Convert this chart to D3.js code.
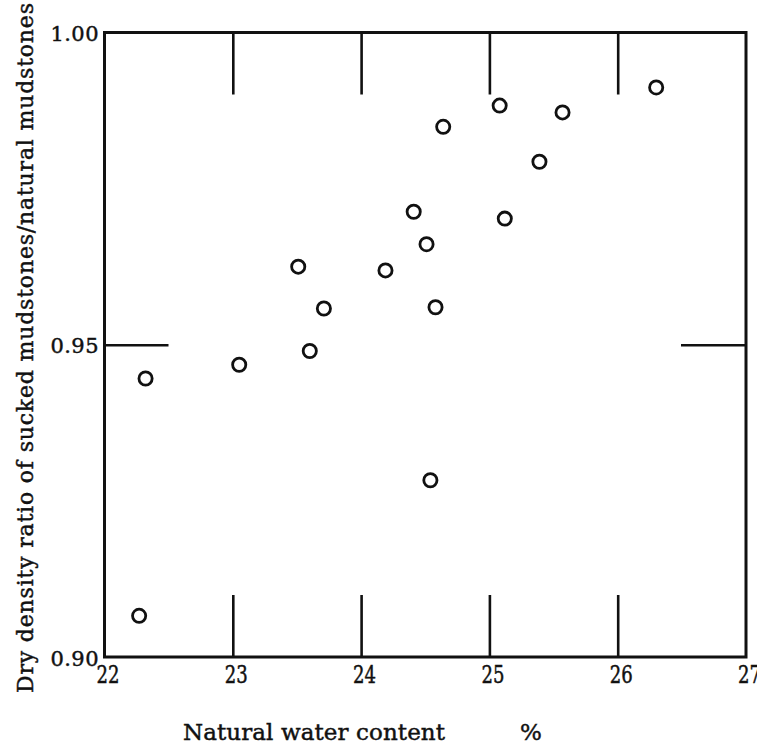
<!DOCTYPE html>
<html>
<head>
<meta charset="utf-8">
<script src="https://cdn.jsdelivr.net/npm/d3@7"></script>
<style>
  html, body { margin: 0; padding: 0; background: #fff; }
  svg { display: block; }
  text { font-family: "DejaVu Serif", "Liberation Serif", serif; fill: #111; stroke: #111; stroke-width: 0.45px; }
</style>
</head>
<body>
<div id="chart"></div>
<script>
// ------- data -------
const waterContent = [26.30, 25.08, 25.57, 24.64, 25.39, 24.41, 25.12, 24.51, 24.19,
                      23.51, 24.58, 23.71, 23.60, 23.05, 22.32, 24.54, 22.27];
const densityRatio = [0.9912, 0.9883, 0.9872, 0.9849, 0.9793, 0.9713, 0.9702, 0.9661, 0.9619,
                      0.9625, 0.9560, 0.9558, 0.9490, 0.9468, 0.9446, 0.9283, 0.9066];
const xTickLabels = [22, 23, 24, 25, 26, 27];
const xInnerTicks = [23, 24, 25, 26];
const yTickLabels = [0.90, 0.95, 1.00];
const yInnerTicks = [0.95];

const X_TITLE = "Natural water content";
const X_UNIT = "%";
const Y_TITLE = "Dry density ratio of sucked mudstones/natural mudstones";

// ------- layout -------
const width = 757, height = 745;
const margin = { top: 32.5, right: 11, bottom: 88, left: 104.5 };
const w = width - margin.left - margin.right;
const h = height - margin.top - margin.bottom;

const svg = d3.select("#chart").append("svg")
  .attr("width", width).attr("height", height);

const g = svg.append("g").attr("transform", `translate(${margin.left},${margin.top})`);

const x = d3.scaleLinear().domain([22, 27]).range([0, w]);
const y = d3.scaleLinear().domain([0.90, 1.00]).range([h, 0]);

const styleTicks = sel => sel.call(s => s.select(".domain").remove())
  .call(s => s.selectAll("line").attr("stroke", "#111").attr("stroke-width", 2.6));

// inward ticks, bottom and top
g.append("g").attr("transform", `translate(0,${h})`)
  .call(d3.axisBottom(x).tickValues(xInnerTicks).tickSizeInner(-62).tickSizeOuter(0).tickFormat(""))
  .call(styleTicks);
g.append("g")
  .call(d3.axisTop(x).tickValues(xInnerTicks).tickSizeInner(-62).tickSizeOuter(0).tickFormat(""))
  .call(styleTicks);

// inward ticks, left and right
g.append("g")
  .call(d3.axisLeft(y).tickValues(yInnerTicks).tickSizeInner(-64).tickSizeOuter(0).tickFormat(""))
  .call(styleTicks);
g.append("g").attr("transform", `translate(${w},0)`)
  .call(d3.axisRight(y).tickValues(yInnerTicks).tickSizeInner(-65).tickSizeOuter(0).tickFormat(""))
  .call(styleTicks);

// tick labels
g.append("g").attr("transform", `translate(0,${h})`)
  .call(d3.axisBottom(x).tickValues(xTickLabels).tickSize(0).tickPadding(0).tickFormat(d3.format("d")))
  .call(s => s.select(".domain").remove())
  .call(s => s.selectAll("text")
    .attr("dy", null).attr("y", 26).attr("dx", 3)
    .attr("textLength", 23).attr("lengthAdjust", "spacingAndGlyphs")
    .style("font-size", "24px")
    .style("font-family", '"DejaVu Serif Condensed", "DejaVu Serif", serif')
    .attr("fill", "#111"));

g.append("g")
  .call(d3.axisLeft(y).tickValues(yTickLabels).tickSize(0).tickPadding(0).tickFormat(d3.format(".2f")))
  .call(s => s.select(".domain").remove())
  .call(s => s.selectAll("text")
    .attr("dy", null).attr("x", -6).attr("y", 8)
    .attr("textLength", 48).attr("lengthAdjust", "spacing")
    .style("font-size", "21px")
    .style("font-family", '"DejaVu Serif", serif')
    .attr("fill", "#111"));

// frame
g.append("rect")
  .attr("x", 0).attr("y", 0).attr("width", w).attr("height", h)
  .attr("fill", "none").attr("stroke", "#111").attr("stroke-width", 3);

// points
const pts = waterContent.map((v, i) => ({ wc: v, dr: densityRatio[i] }));
g.append("g")
  .selectAll("circle")
  .data(pts)
  .enter()
  .append("circle")
  .attr("cx", d => x(d.wc))
  .attr("cy", d => y(d.dr))
  .attr("r", 6.6)
  .attr("fill", "none")
  .attr("stroke", "#111")
  .attr("stroke-width", 2.8);

// axis titles
svg.append("text")
  .attr("x", 183).attr("y", 740)
  .attr("textLength", 262).attr("lengthAdjust", "spacing")
  .style("font-size", "23px")
  .text(X_TITLE);

svg.append("text")
  .attr("x", 531).attr("y", 740)
  .attr("text-anchor", "middle")
  .style("font-size", "23px")
  .text(X_UNIT);

svg.append("text")
  .attr("transform", "translate(33,693) rotate(-90)")
  .attr("x", 0).attr("y", 0)
  .attr("textLength", 690).attr("lengthAdjust", "spacing")
  .style("font-size", "22px")
  .text(Y_TITLE);
</script>
</body>
</html>
